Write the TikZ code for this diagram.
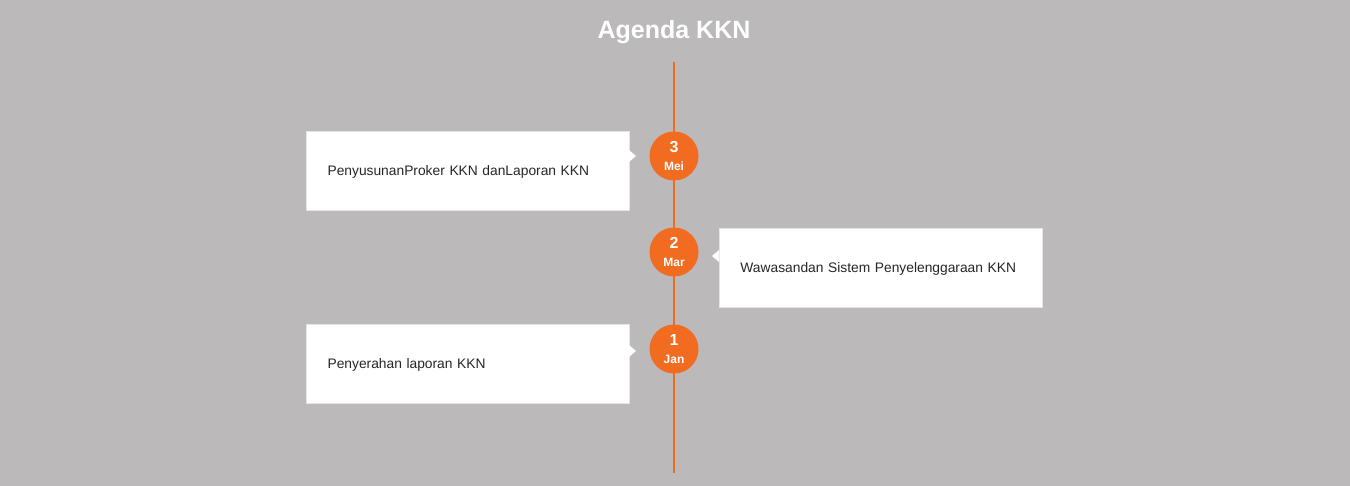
\documentclass[tikz,border=0pt]{standalone}
\usepackage{fontspec}
\setmainfont{Liberation Sans}
\usepackage{tikz}
\definecolor{mybg}{RGB}{187,185,185}
\definecolor{myorange}{RGB}{241,107,33}
\usetikzlibrary{calc,positioning}
\tikzstyle{datevertex}=[fill=myorange,circle,minimum size=49pt,inner sep=0pt,text=white,font=\bfseries,align=center]
\tikzstyle{agendabox}=[draw=black!10,fill=white,minimum width=322.5pt,minimum height=79pt,inner xsep=21pt,text width=280pt,text height=10pt,text depth=0pt,align=left,font=\fontsize{13.8}{16}\selectfont,text=black!85]
\newcommand{\tgl}[2]{{\fontsize{16}{16}\selectfont #1}\\[6.5pt]{\fontsize{12}{12}\selectfont #2}}

\begin{document}
\begin{tikzpicture}[x=1pt,y=-1pt]
\fill[mybg] (0,0) rectangle (1350,486);
\useasboundingbox (0,0) rectangle (1350,486);
\node [text=white,font=\bfseries\fontsize{25}{25}\selectfont] (title) at (674,32) {Agenda KKN};
\coordinate (top) at (674,62);
\coordinate (bottom) at (674,473);
\draw [myorange,line width=2pt] (top) -- (bottom);
% date circles
\node [datevertex] (d3) at (674,156) {\tgl{3}{Mei}};
\node [datevertex] (d2) at (674,252) {\tgl{2}{Mar}};
\node [datevertex] (d1) at (674,349) {\tgl{1}{Jan}};
% agenda boxes
\node [agendabox,anchor=north east] (b3) at (629,131) {PenyusunanProker KKN danLaporan KKN};
\node [agendabox,anchor=north west] (b2) at (719,228) {Wawasandan Sistem Penyelenggaraan KKN};
\node [agendabox,anchor=north east] (b1) at (629,324) {Penyerahan laporan KKN};
% pointers
\fill [white] ($(b3.north east)+(0,19)$) -- ++(7,6) -- ++(-7,6) -- cycle;
\fill [white] ($(b2.north west)+(0,22)$) -- ++(-7,6) -- ++(7,6) -- cycle;
\fill [white] ($(b1.north east)+(0,21)$) -- ++(7,6) -- ++(-7,6) -- cycle;
\end{tikzpicture}
\end{document}
